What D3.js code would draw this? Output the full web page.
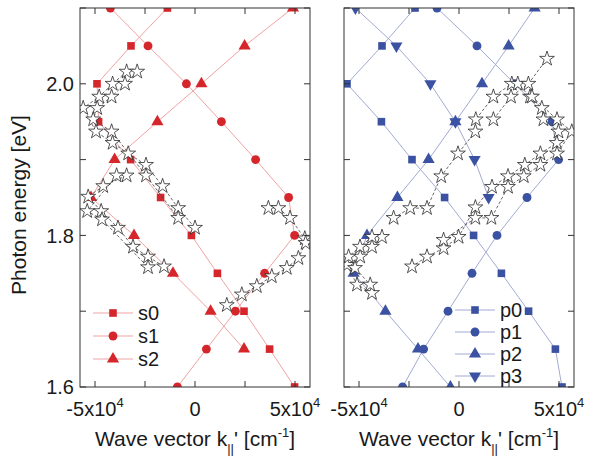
<!DOCTYPE html>
<html><head><meta charset="utf-8">
<script src="https://cdn.jsdelivr.net/npm/d3@7"></script>
<style>
body{margin:0;background:#fff;}
text{font-family:"Liberation Sans",Arial,sans-serif;fill:#1a1a1a;}
</style></head><body>
<svg id="c" width="590" height="457"></svg>
<script>
// ---- data (k in units of 1e4 cm^-1, E in eV) ----
const energies = [2.10,2.05,2.00,1.95,1.90,1.85,1.80,1.75,1.70,1.65,1.60];
const s0k = [-1.38,-3.2,-4.9,-4.82,-3.22,-1.72,-0.18,1.12,2.45,3.73,4.98];
const s1k = [-4.23,-2.35,-0.43,1.32,3.03,4.68,4.98,3.48,2.02,0.57,-0.88];
const s2k = [4.9,2.48,0.32,-1.88,-4.02,-5.2,-3.05,-1.1,0.78,2.45,null];
const p0k = [-2.2,-3.85,-5.6,-3.88,-2.35,-0.72,0.73,2.12,3.48,4.82,5.15];
const p1k = [-1.1,0.9,2.78,4.65,4.98,3.4,1.9,0.65,-0.55,-1.77,-2.82];
const p2k = [3.78,2.48,1.15,-0.18,-1.52,-3.08,-4.6,-5.27,-3.68,-2.05,-0.43];
const p3k = [-5.18,-3.13,-1.43,-0.18,0.78,1.48,null,null,null,null,null];

// measured (stars), [k, E]
const expS1 = [[-3.42,2.016],[-4.12,2.000],[-4.79,1.983],[-5.59,1.968],[-4.95,1.937],[-4.12,1.922],[-3.34,1.908],[-2.45,1.893],[-1.62,1.865],[-0.84,1.836],[0.0,1.810]];
const expS2 = [[-2.89,2.016],[-3.5,2.000],[-4.17,1.983],[-4.89,1.968],[-5.09,1.953],[-4.17,1.937],[-2.45,1.879],[-0.84,1.823]];
const expS3 = [[-3.42,1.879],[-4.59,1.865],[-5.34,1.851],[-4.69,1.832],[-3.85,1.810],[-3.1,1.785],[-2.35,1.772],[-1.55,1.759]];
const expS4 = [[-3.92,1.879],[-5.39,1.832],[-4.65,1.821],[-2.35,1.758]];
const expS5 = [[3.67,1.836],[4.17,1.836],[4.75,1.823],[5.49,1.796],[5.53,1.790],[5.17,1.770],[4.59,1.757],[3.84,1.746],[3.09,1.733],[2.34,1.722],[1.59,1.708]];

const expP1 = [[-3.85,1.798],[-4.35,1.785],[-4.94,1.772],[-5.6,1.761],[-5.1,1.735],[-4.35,1.724]];
const expP2 = [[-4.35,1.798],[-4.95,1.785],[-5.52,1.772],[-5.2,1.757],[-4.44,1.735]];
const expP3 = [[-3.27,1.823],[-2.44,1.836],[-1.6,1.836],[-0.89,1.878],[-0.05,1.908],[0.82,1.937],[0.84,1.953],[1.72,1.983],[2.64,2.000],[2.94,2.000],[3.55,1.983],[4.14,1.968],[4.22,1.953],[4.97,1.937],[4.89,1.922],[4.07,1.908],[3.29,1.893],[2.45,1.878],[1.65,1.864],[0.82,1.837],[-0.02,1.798],[-0.77,1.783],[-1.6,1.772],[-2.35,1.759]];
const expP4 = [[1.72,1.953],[2.6,1.983],[3.47,2.000],[4.4,2.033]];
const expP5 = [[3.65,1.983],[4.9,1.953],[5.64,1.937],[4.9,1.908],[4.07,1.893],[3.24,1.878],[2.45,1.864],[1.62,1.823],[0.82,1.823],[-0.77,1.794]];

const xTicks = [-5,-2.5,0,2.5,5];
const xLabels = [-5,0,5];
const yTicks = [1.6,1.7,1.8,1.9,2.0,2.1];
const yLabels = [1.6,1.8,2.0];
const sNames = ["s0","s1","s2"];
const pNames = ["p0","p1","p2","p3"];

// ---- layout ----
const W=590,H=457, yT=8, yB=387;
const svg=d3.select("#c");
svg.append("rect").attr("width",W).attr("height",H).attr("fill","#fff");
const y=d3.scaleLinear().domain([1.6,2.1]).range([yB,yT]);

const RED="#d5262c", REDL="#efa3a3", BLUE="#3b52a3", BLUEL="#a3aad2";
const sym = {
  sq: d3.symbol().type(d3.symbolSquare).size(58),
  ci: d3.symbol().type(d3.symbolCircle).size(62),
  tr: d3.symbol().type(d3.symbolTriangle).size(64),
  st: d3.symbol().type(d3.symbolStar).size(68)
};

function panel(id, x0, x1, theory, exps, legend){
  const x=d3.scaleLinear().domain([-5.75,5.75]).range([x0,x1]);
  const g=svg.append("g");
  const clipId="clip"+id;
  svg.append("defs").append("clipPath").attr("id",clipId)
    .append("rect").attr("x",x0).attr("y",yT).attr("width",x1-x0).attr("height",yB-yT);
  const pg=g.append("g").attr("clip-path",`url(#${clipId})`);
  const line=d3.line().x(d=>x(d[0])).y(d=>y(d[1]));
  theory.forEach(t=>{
    const pts=energies.map((e,i)=>[t.k[i],e]).filter(d=>d[0]!=null);
    pg.append("path").attr("d",line(pts)).attr("fill","none").attr("stroke",t.lc).attr("stroke-width",1);
  });
  theory.forEach(t=>{
    const pts=energies.map((e,i)=>[t.k[i],e]).filter(d=>d[0]!=null);
    pg.selectAll(null).data(pts).enter().append("path")
      .attr("d",sym[t.s]())
      .attr("transform",d=>`translate(${x(d[0])},${y(d[1])})${t.rot?" rotate(180)":""}`)
      .attr("fill",t.c);
  });
  exps.forEach(e=>{
    pg.append("path").attr("d",line(e)).attr("fill","none").attr("stroke","#444")
      .attr("stroke-width",0.8).attr("stroke-dasharray","3,2");
  });
  exps.forEach(e=>{
    pg.selectAll(null).data(e).enter().append("path").attr("d",sym.st())
      .attr("transform",d=>`translate(${x(d[0])},${y(d[1])})`)
      .attr("fill","#fff").attr("stroke","#2a2a2a").attr("stroke-width",0.8);
  });
  // frame + ticks
  g.append("rect").attr("x",x0).attr("y",yT).attr("width",x1-x0).attr("height",yB-yT)
    .attr("fill","none").attr("stroke","#333").attr("stroke-width",1);
  const ax=g.append("g").attr("stroke","#333").attr("stroke-width",1);
  xTicks.forEach(v=>{
    ax.append("line").attr("x1",x(v)).attr("x2",x(v)).attr("y1",yB).attr("y2",yB-6);
    ax.append("line").attr("x1",x(v)).attr("x2",x(v)).attr("y1",yT).attr("y2",yT+6);
  });
  yTicks.forEach(v=>{
    ax.append("line").attr("x1",x0).attr("x2",x0+6).attr("y1",y(v)).attr("y2",y(v));
    ax.append("line").attr("x1",x1).attr("x2",x1-6).attr("y1",y(v)).attr("y2",y(v));
  });
  // x labels
  xLabels.forEach(v=>{
    const t=g.append("text").attr("x",x(v)).attr("y",416).attr("text-anchor","middle").attr("font-size",20);
    if(v===0){t.text("0");}
    else{
      t.append("tspan").text((v<0?"-":"")+Math.abs(v)+"x10");
      t.append("tspan").attr("dy",-9).attr("font-size",13).text("4");
    }
  });
  // x title
  const tt=g.append("text").attr("x",(x0+x1)/2).attr("y",446).attr("text-anchor","middle").attr("font-size",21);
  tt.append("tspan").text("Wave vector k");
  tt.append("tspan").attr("dy",7).attr("font-size",13).text("||");
  tt.append("tspan").attr("dy",-7).text("' [cm");
  tt.append("tspan").attr("dy",-9).attr("font-size",13).text("-1");
  tt.append("tspan").attr("dy",9).text("]");
  // legend
  const lg=g.append("g");
  legend.rows.forEach((r,i)=>{
    const yy=legend.y[i];
    lg.append("line").attr("x1",legend.lx0).attr("x2",legend.lx1).attr("y1",yy).attr("y2",yy)
      .attr("stroke",r.lc).attr("stroke-width",1);
    lg.append("path").attr("d",sym[r.s]())
      .attr("transform",`translate(${(legend.lx0+legend.lx1)/2},${yy})${r.rot?" rotate(180)":""}`).attr("fill",r.c);
    lg.append("text").attr("x",legend.tx).attr("y",yy).attr("dy","0.36em").attr("font-size",20).text(r.name);
  });
  return x;
}

const sTheory=[
  {k:s0k,s:"sq",c:RED,lc:REDL,name:sNames[0]},
  {k:s1k,s:"ci",c:RED,lc:REDL,name:sNames[1]},
  {k:s2k,s:"tr",c:RED,lc:REDL,name:sNames[2]}];
const pTheory=[
  {k:p0k,s:"sq",c:BLUE,lc:BLUEL,name:pNames[0]},
  {k:p1k,s:"ci",c:BLUE,lc:BLUEL,name:pNames[1]},
  {k:p2k,s:"tr",c:BLUE,lc:BLUEL,name:pNames[2]},
  {k:p3k,s:"tr",c:BLUE,lc:BLUEL,rot:true,name:pNames[3]}];

panel("L",80,310,sTheory,[expS1,expS2,expS3,expS4,expS5],
  {rows:sTheory,y:[313,336,359],lx0:93,lx1:133,tx:138});
panel("R",344,574,pTheory,[expP1,expP2,expP3,expP4,expP5],
  {rows:pTheory,y:[310,332,354,376],lx0:455,lx1:495,tx:500});

// y labels (left panel only)
yLabels.forEach(v=>{
  svg.append("text").attr("x",74).attr("y",y(v)).attr("dy","0.36em").attr("text-anchor","end")
    .attr("font-size",20).text(d3.format(".1f")(v));
});
svg.append("text").attr("transform","translate(26,205) rotate(-90)").attr("text-anchor","middle")
  .attr("font-size",21).text("Photon energy [eV]");
</script>
</body></html>
